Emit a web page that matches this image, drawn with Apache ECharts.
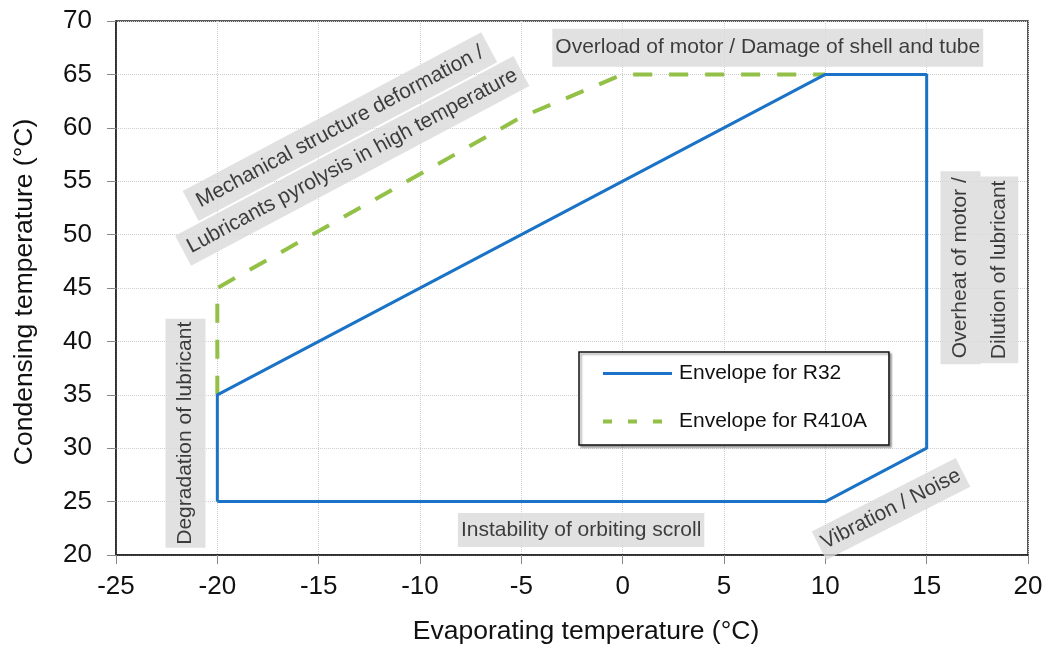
<!DOCTYPE html>
<html>
<head>
<meta charset="utf-8">
<script src="https://cdn.jsdelivr.net/npm/echarts@6/dist/echarts.min.js"></script>
<style>html,body{margin:0;padding:0;background:#fff;}#c{width:1050px;height:648px;}</style>
</head>
<body>
<div id="c"></div>
<script>
// Envelope data (evaporating °C, condensing °C)
const r32X = [-20, 10, 15, 15, 10, -20, -20];
const r32Y = [25, 25, 30, 65, 65, 35, 25];
const r410aX = [-20, -20, -5, 0, 10];
const r410aY = [35, 45, 61, 65, 65];

const xTicks = { min: -25, max: 20, interval: 5 };
const yTicks = { min: 20, max: 70, interval: 5 };

// Annotation texts and their anchor positions in data coordinates
const annoText = [
  'Overload of motor / Damage of shell and tube',
  'Mechanical structure deformation /',
  'Lubricants pyrolysis in high temperature',
  'Degradation of lubricant',
  'Instability of orbiting scroll',
  'Vibration / Noise',
  'Overheat of motor /',
  'Dilution of lubricant'
];
const annoX = [7.16, -13.95, -13.34, -21.57, -2.05, 13.24, 16.67, 18.58];
const annoY = [67.5, 60.1, 56.9, 31.4, 22.34, 24.3, 46.9, 46.7];

const FONT = "'Liberation Sans', Arial, sans-serif";
const annoStyle = [
  { rotate: 0, padding: [6, 3] },
  { rotate: 28, padding: [4, 8] },
  { rotate: 28, padding: [4, 6] },
  { rotate: 90, padding: [7, 3] },
  { rotate: 0, padding: [4, 3] },
  { rotate: 27, padding: [3, 4] },
  { rotate: 90, padding: [7, 6] },
  { rotate: 90, padding: [6, 4] }
];

const annoData = annoText.map((t, i) => ({
  value: [annoX[i], annoY[i]],
  label: {
    show: true,
    formatter: t,
    position: 'inside',
    align: 'center',
    verticalAlign: 'middle',
    rotate: annoStyle[i].rotate,
    padding: annoStyle[i].padding,
    backgroundColor: '#d9d9d9',
    color: '#111',
    fontSize: 21,
    lineHeight: 26,
    fontFamily: FONT
  }
}));

const chart = echarts.init(document.getElementById('c'), null, { renderer: 'canvas' });
chart.setOption({
  animation: false,
  backgroundColor: '#fff',
  textStyle: { fontFamily: FONT },
  grid: {
    left: 116, right: 22, top: 21, bottom: 93,
    containLabel: false, outerBoundsMode: 'none',
    show: true, borderColor: '#222', borderWidth: 1.5, backgroundColor: 'transparent'
  },
  legend: {
    orient: 'vertical',
    left: 579, top: 352,
    padding: [11, 22, 13, 22],
    itemWidth: 69, itemHeight: 14, itemGap: 27,
    borderColor: '#111', borderWidth: 1.5,
    backgroundColor: '#fff',
    shadowColor: 'rgba(0,0,0,0.35)', shadowBlur: 2, shadowOffsetX: 2, shadowOffsetY: 2,
    itemStyle: { opacity: 0 },
    textStyle: { fontSize: 21, lineHeight: 21, color: '#111', fontFamily: FONT, padding: [0, 0, 0, 2] },
    data: [
      { name: 'Envelope for R32', lineStyle: { width: 3 } },
      { name: 'Envelope for R410A', lineStyle: { width: 4, type: [9, 16] } }
    ]
  },
  xAxis: {
    type: 'value', min: xTicks.min, max: xTicks.max, interval: xTicks.interval,
    name: 'Evaporating temperature (°C)', nameLocation: 'middle', nameGap: 63,
    nameTextStyle: { fontSize: 26.5, color: '#111', fontFamily: FONT, padding: [0, 0, 0, 28] },
    axisLine: { show: true, onZero: false, lineStyle: { color: '#222', width: 1.5 } },
    axisTick: { show: true, length: 9, lineStyle: { color: '#888' } },
    axisLabel: { fontSize: 26, color: '#111', margin: 19, fontFamily: FONT },
    splitLine: { show: true, lineStyle: { color: '#cfcfcf', type: 'dotted', width: 1 } }
  },
  yAxis: {
    type: 'value', min: yTicks.min, max: yTicks.max, interval: yTicks.interval,
    name: 'Condensing temperature (°C)', nameLocation: 'middle', nameGap: 78, nameRotate: 90,
    nameTextStyle: { fontSize: 26.5, color: '#111', fontFamily: FONT, padding: [0, 8, 0, 0] },
    axisLine: { show: true, onZero: false, lineStyle: { color: '#222', width: 1.5 } },
    axisTick: { show: true, length: 9, lineStyle: { color: '#888' } },
    axisLabel: { fontSize: 26, color: '#111', margin: 24, fontFamily: FONT },
    splitLine: { show: true, lineStyle: { color: '#cfcfcf', type: 'dotted', width: 1 } }
  },
  series: [
    {
      name: 'Envelope for R32', type: 'line', symbol: 'none',
      data: r32X.map((x, i) => [x, r32Y[i]]),
      lineStyle: { color: '#1a73c6', width: 3 },
      itemStyle: { color: '#1a73c6' },
      z: 3
    },
    {
      name: 'Envelope for R410A', type: 'line', symbol: 'none',
      data: r410aX.map((x, i) => [x, r410aY[i]]),
      lineStyle: { color: '#93c047', width: 4, type: [19, 17] },
      itemStyle: { color: '#93c047' },
      z: 2
    },
    {
      name: 'annotations', type: 'scatter', symbolSize: 1, silent: true,
      itemStyle: { color: 'rgba(0,0,0,0)' },
      data: annoData,
      z: 5
    }
  ]
});
</script>
</body>
</html>
